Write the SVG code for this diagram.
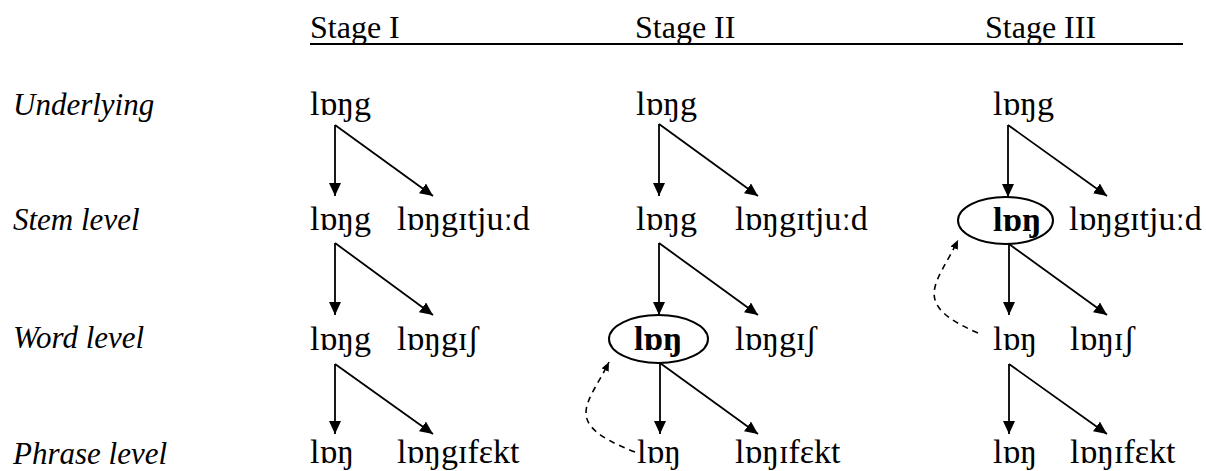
<svg xmlns="http://www.w3.org/2000/svg" width="1206" height="471" viewBox="0 0 1206 471">
<style>
text{font-family:"Liberation Serif","Times New Roman","DejaVu Serif",serif;font-size:34px;fill:#000}
.h{font-size:32px}
.lab{font-style:italic;font-size:31px}
.b{font-weight:bold}
.c{stroke:#000;stroke-width:1.8;fill:none}
.d{stroke:#000;stroke-width:1.6;fill:none;stroke-dasharray:6 5}
.e{stroke:#000;stroke-width:2;fill:none}
</style>
<defs>
<marker id="ah" markerUnits="userSpaceOnUse" markerWidth="14" markerHeight="12" refX="13" refY="6" orient="auto"><path d="M0,0 L13,6 L0,12 Z" fill="#000"/></marker>
<marker id="ahs" markerUnits="userSpaceOnUse" markerWidth="10" markerHeight="10" refX="9" refY="4" orient="auto"><path d="M0,0 L9,4 L0,8 Z" fill="#000"/></marker>
</defs>
<g id="header">
<text class="h" x="310" y="38">Stage I</text>
<text class="h" x="635" y="38">Stage II</text>
<text class="h" x="985" y="38">Stage III</text>
<line x1="310" y1="44" x2="1183" y2="44" stroke="#000" stroke-width="2"/>
</g>
<g id="labels">
<text class="lab" x="13" y="115">Underlying</text>
<text class="lab" x="13" y="230">Stem level</text>
<text class="lab" x="13" y="348">Word level</text>
<text class="lab" x="13" y="464">Phrase level</text>
</g>
<g id="s1-u"><text x="310" y="115">lɒŋg</text></g>
<g id="s1-s1"><text x="310" y="230">lɒŋg</text></g>
<g id="s1-s2"><text x="397" y="230">lɒŋgɪtjuːd</text></g>
<g id="s1-w1"><text x="310" y="350">lɒŋg</text></g>
<g id="s1-w2"><text x="397" y="350">lɒŋgɪʃ</text></g>
<g id="s1-p1"><text x="310" y="463">lɒŋ</text></g>
<g id="s1-p2"><text x="397" y="463">lɒŋgɪfɛkt</text></g>
<g id="s2-u"><text x="636" y="115">lɒŋg</text></g>
<g id="s2-s1"><text x="636" y="230">lɒŋg</text></g>
<g id="s2-s2"><text x="735" y="230">lɒŋgɪtjuːd</text></g>
<g id="s2-w1"><ellipse class="e" cx="658.5" cy="339" rx="49.5" ry="24"/><text class="b" x="634" y="350">lɒŋ</text></g>
<g id="s2-w2"><text x="735" y="350">lɒŋgɪʃ</text></g>
<g id="s2-p1"><text x="637" y="463">lɒŋ</text></g>
<g id="s2-p2"><text x="735" y="463">lɒŋɪfɛkt</text></g>
<g id="s3-u"><text x="993" y="115">lɒŋg</text></g>
<g id="s3-s1"><ellipse class="e" cx="1005.5" cy="220.5" rx="47.5" ry="23.5"/><text class="b" x="993" y="231">lɒŋ</text></g>
<g id="s3-s2"><text x="1069" y="230">lɒŋgɪtjuːd</text></g>
<g id="s3-w1"><text x="993" y="350">lɒŋ</text></g>
<g id="s3-w2"><text x="1070" y="350">lɒŋɪʃ</text></g>
<g id="s3-p1"><text x="993" y="463">lɒŋ</text></g>
<g id="s3-p2"><text x="1070" y="463">lɒŋɪfɛkt</text></g>
<g id="connectors">
<path class="c" d="M335,125 L335,196" marker-end="url(#ah)"/>
<path class="c" d="M335,125 L433,196" marker-end="url(#ah)"/>
<path class="c" d="M335,243 L335,315" marker-end="url(#ah)"/>
<path class="c" d="M335,243 L433,315" marker-end="url(#ah)"/>
<path class="c" d="M335,364 L335,434" marker-end="url(#ah)"/>
<path class="c" d="M335,364 L433,434" marker-end="url(#ah)"/>
<path class="c" d="M659,124 L659,196" marker-end="url(#ah)"/>
<path class="c" d="M659,124 L758,196" marker-end="url(#ah)"/>
<path class="c" d="M659,243 L659,315" marker-end="url(#ah)"/>
<path class="c" d="M659,243 L758,315" marker-end="url(#ah)"/>
<path class="c" d="M660,363 L660,434" marker-end="url(#ah)"/>
<path class="c" d="M660,363 L758,434" marker-end="url(#ah)"/>
<path class="c" d="M1008,125 L1008,197" marker-end="url(#ah)"/>
<path class="c" d="M1008,125 L1107,196" marker-end="url(#ah)"/>
<path class="c" d="M1009,244 L1009,315" marker-end="url(#ah)"/>
<path class="c" d="M1009,244 L1107,315" marker-end="url(#ah)"/>
<path class="c" d="M1009,364 L1009,434" marker-end="url(#ah)"/>
<path class="c" d="M1009,364 L1107,434" marker-end="url(#ah)"/>
<path class="d" d="M635,452 C560,423 588,405 609,362" marker-end="url(#ahs)"/>
<path class="d" d="M978,333 C908,303 938,283 958,240" marker-end="url(#ahs)"/>
</g>
</svg>
